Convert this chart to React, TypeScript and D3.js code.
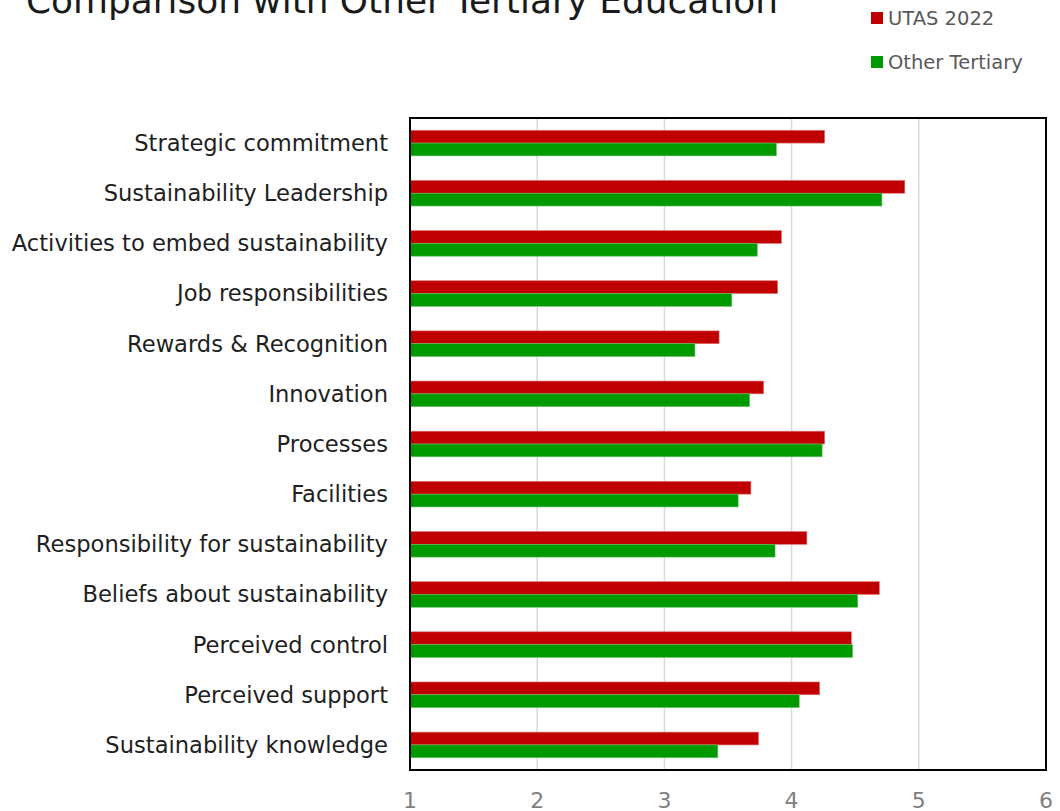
import React from "react";
import * as d3 from "d3";

const categories = [
  "Strategic commitment",
  "Sustainability Leadership",
  "Activities to embed sustainability",
  "Job responsibilities",
  "Rewards & Recognition",
  "Innovation",
  "Processes",
  "Facilities",
  "Responsibility for sustainability",
  "Beliefs about sustainability",
  "Perceived control",
  "Perceived support",
  "Sustainability knowledge",
];
const utas2022 = [4.26, 4.89, 3.92, 3.89, 3.43, 3.78, 4.26, 3.68, 4.12, 4.69, 4.47, 4.22, 3.74];
const otherTertiary = [3.88, 4.71, 3.73, 3.53, 3.24, 3.67, 4.24, 3.58, 3.87, 4.52, 4.48, 4.06, 3.42];
const seriesNames = ["UTAS 2022", "Other Tertiary"];
const seriesColors = ["#C00000", "#009900"];
const xTicks = [1, 2, 3, 4, 5, 6];
const title = "Comparison with Other Tertiary Education";

const FONT = "'Century Gothic', 'DejaVu Sans', sans-serif";

export default function App() {
  const W = 1060, H = 811;
  const left = 410, right = 1046, top = 118, bottom = 770;
  const x = d3.scaleLinear().domain([1, 6]).range([left, right]);
  const y = d3.scaleBand<string>().domain(categories).range([top, bottom]).padding(0);
  const yi = d3.scaleBand<string>().domain(seriesNames).range([0, y.bandwidth()]).paddingInner(0).paddingOuter(0.96);
  const data = [utas2022, otherTertiary];

  return (
    <svg width={W} height={H} style={{ position: "absolute", left: 0, top: 0, background: "#fff" }}>
      <rect x={0} y={0} width={W} height={H} fill="#fff" />
      <text x={26} y={13} fontFamily={FONT} fontSize={36} fill="#1a1a1a" textLength={752} lengthAdjust="spacingAndGlyphs">
        {title}
      </text>
      {seriesNames.map((s, i) => (
        <g key={s}>
          <rect x={871} y={12 + i * 44} width={12} height={12} fill={seriesColors[i]} />
          <text x={888} y={25 + i * 44} fontFamily={FONT} fontSize={19.5} fill="#595959">
            {s}
          </text>
        </g>
      ))}
      {xTicks.slice(1, -1).map((t) => (
        <line key={t} x1={x(t)} x2={x(t)} y1={top} y2={bottom} stroke="#d9d9d9" strokeWidth={1.5} />
      ))}
      {categories.map((c, ci) => (
        <g key={c}>
          {seriesNames.map((s, si) => (
            <rect
              key={s}
              x={x(1)}
              y={(y(c) as number) + (yi(s) as number)}
              width={x(data[si][ci]) - x(1)}
              height={yi.bandwidth()}
              fill={seriesColors[si]}
              stroke={si === 0 ? "#e07070" : "#66c266"}
              strokeWidth={0.6}
            />
          ))}
          <text
            x={388}
            y={(y(c) as number) + y.bandwidth() / 2}
            dy="0.35em"
            textAnchor="end"
            fontFamily={FONT}
            fontSize={22.6}
            fill="#1f1f1f"
          >
            {c}
          </text>
        </g>
      ))}
      <rect x={left} y={top} width={right - left} height={bottom - top} fill="none" stroke="#000" strokeWidth={2} />
      {xTicks.map((t) => (
        <text key={t} x={x(t)} y={808} textAnchor="middle" fontFamily={FONT} fontSize={22} fill="#7f7f7f">
          {t}
        </text>
      ))}
    </svg>
  );
}
